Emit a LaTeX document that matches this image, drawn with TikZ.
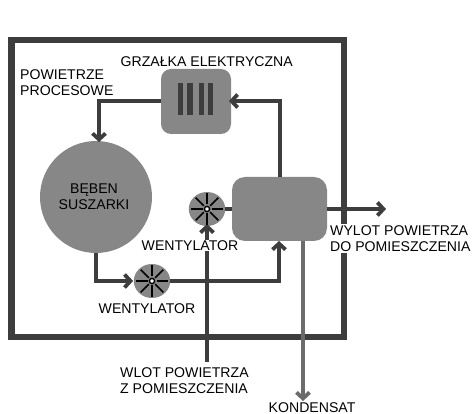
\documentclass[tikz,border=0pt]{standalone}
\usepackage{fontspec}
\setmainfont{Liberation Sans}
\usetikzlibrary{arrows.meta,calc}
\definecolor{dk}{gray}{0.24}
\definecolor{fill1}{gray}{0.53}
\tikzset{
  flow/.style={draw=dk,line width=3.4pt,-{Straight Barb[length=6pt,width=13pt,line width=3.8pt]}},
  plain/.style={draw=dk,line width=3.4pt},
  unit/.style={fill=fill1,draw=none,rounded corners=#1},
  lab/.style={font=\fontsize{14.1}{16.2}\selectfont,fill=white,inner sep=1pt,align=left},
  fan/.style={circle,fill=fill1,draw=none,minimum size=34pt,inner sep=0,xscale=1.07},
}
\begin{document}
\begin{tikzpicture}[x=1pt,y=-1pt]
\useasboundingbox (0,0) rectangle (472,414);
\fill[white] (0,0) rectangle (472,414);
\coordinate (f1) at (11.5,40); \coordinate (f2) at (344,337);
\draw[draw=dk,line width=6.5pt] (f1) rectangle (f2);
% drawn units
\path[unit=10pt] (161,69) rectangle (231,134);
\coordinate (hL) at (161,101); \coordinate (hR) at (231,101);
\foreach \x in {180.5,190,201.5,210.8}{\fill[dk] (\x-2.6,83) rectangle (\x+2.6,115);}
\path[unit=13pt] (232,177) rectangle (327,241);
\coordinate (cT) at (280,177); \coordinate (cB) at (279,241); \coordinate (cL) at (232,209); \coordinate (cR) at (327,209); \coordinate (cC) at (303,241);
\node[circle,fill=fill1,minimum size=112pt,inner sep=0] (drum) at (96,197) {};
\node[fan] (fanA) at (207,209) {};
\node[fan] (fanB) at (152,281) {};
% connectors
\coordinate (in) at (207,362);
\coordinate (out) at (386,209);
\coordinate (kon) at (303,401);
\coordinate (dTop) at (99,142);
\draw[flow] (hL) -| (dTop);
\draw[flow] (cT) |- ([xshift=-2pt]hR);
\draw[flow] (drum.south) |- ([xshift=-0.5pt]fanB.west);
\draw[flow] (fanB.east) -| (cB);
\draw[flow] (in) -- (207,224);
\draw[plain] (fanA.east) -- (cL);
\draw[flow] (cR) -- (out);
\draw[flow,draw=black!58] (cC) -- (kon);
% fan blades
\foreach \c in {fanA,fanB}{
  \foreach \a in {0,45,...,315}{
    \draw[black,line width=1.6pt] ($(\c)+(\a:4.5)$) -- ($(\c)+(\a:16)$);
  }
  \draw[black,line width=1.4pt,fill=white] (\c) circle (2.6pt);
}
% labels
\node[lab,fill=none,anchor=west] (t1) at (119.5,61.5) {GRZAŁKA ELEKTRYCZNA};
\node[lab,fill=none,anchor=west] (t2) at (19,82.5) {POWIETRZE\\PROCESOWE};
\node[font=\fontsize{14.1}{15.5}\selectfont,align=center,inner sep=0] (t3) at (94,196.5) {BĘBEN\\SUSZARKI};
\node[lab,anchor=center] (t4) at (190,245.5) {WENTYLATOR};
\node[lab,anchor=center] (t5) at (147,309) {WENTYLATOR};
\node[lab,anchor=west] (t6) at (329,238.5) {WYLOT POWIETRZA\\DO POMIESZCZENIA};
\node[lab,anchor=west] (t7) at (119,380.5) {WLOT POWIETRZA\\Z POMIESZCZENIA};
\node[lab,anchor=west] (t8) at (267.5,407.5) {KONDENSAT};
\end{tikzpicture}
\end{document}
